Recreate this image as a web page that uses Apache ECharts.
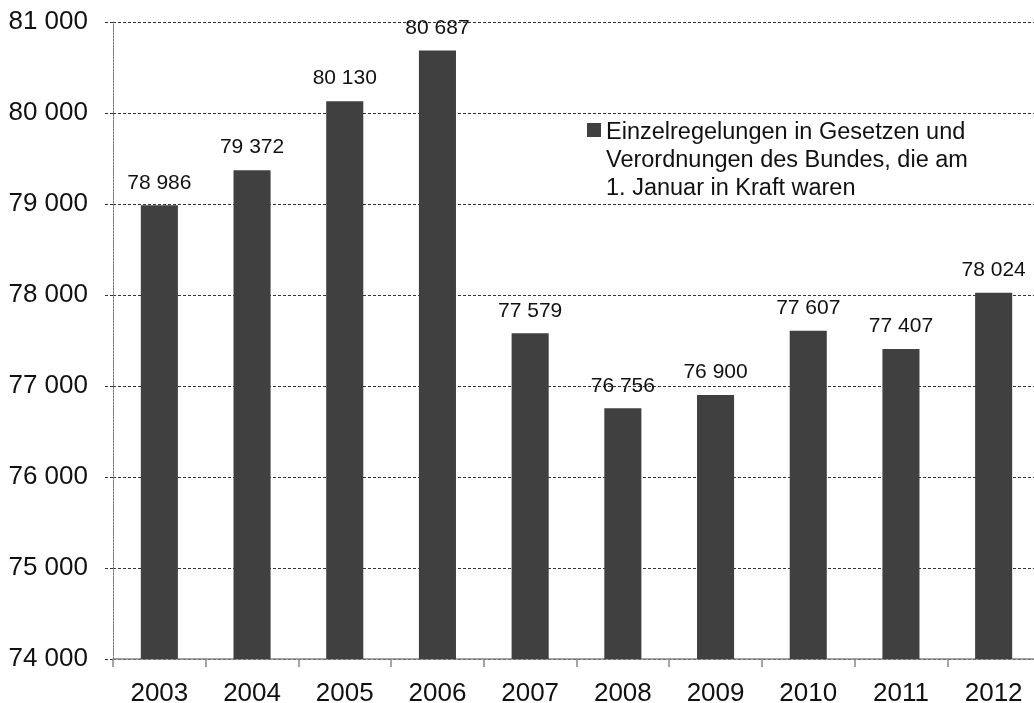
<!DOCTYPE html>
<html>
<head>
<meta charset="utf-8">
<script src="https://cdn.jsdelivr.net/npm/echarts@6/dist/echarts.min.js"></script>
<style>
  html, body { margin: 0; padding: 0; background: #fff; }
  #chart { width: 1034px; height: 703px; }
</style>
</head>
<body>
<div id="chart"></div>
<script>
// Jahre und Anzahl der Einzelregelungen
const years = ['2003', '2004', '2005', '2006', '2007', '2008', '2009', '2010', '2011', '2012']
const regelungen = [78986, 79372, 80130, 80687, 77579, 76756, 76900, 77607, 77407, 78024]
const seriesName = 'Einzelregelungen in Gesetzen und\nVerordnungen des Bundes, die am\n1. Januar in Kraft waren'

const fmt = v => String(v).replace(/\B(?=(\d{3})+(?!\d))/g, ' ')
const font = 'Liberation Sans, Arial, sans-serif'

const chart = echarts.init(document.getElementById('chart'))
chart.setOption({
  animation: false,
  textStyle: { fontFamily: font },
  grid: { left: 113, right: -6, top: 22, bottom: 44, outerBoundsMode: 'none' },
  legend: {
    left: 582,
    top: 114,
    itemWidth: 14,
    itemHeight: 84,
    // Quadrat oben, damit es bei der ersten Zeile steht
    icon: 'path://M0 4H14V18H0Z M0 0H0.1V0.1H0Z M0 83.9H0.1V84H0Z',
    textStyle: { fontSize: 23.5, lineHeight: 28, color: '#111', fontFamily: font },
    data: [seriesName]
  },
  xAxis: {
    type: 'category',
    data: years,
    axisLine: { lineStyle: { color: '#888', width: 1.5 } },
    axisTick: { show: true, length: 8, lineStyle: { color: '#888', width: 1.5 } },
    axisLabel: { fontSize: 26, color: '#111', margin: 22 }
  },
  yAxis: {
    type: 'value',
    min: 74000,
    max: 81000,
    interval: 1000,
    axisLine: { show: true, lineStyle: { color: '#777', type: [2, 1] } },
    axisTick: { show: true, length: 8, lineStyle: { color: '#333', type: [3, 2] } },
    splitLine: { lineStyle: { color: '#333', type: [3, 2] } },
    axisLabel: { fontSize: 26, color: '#111', margin: 25, formatter: fmt }
  },
  series: [{
    name: seriesName,
    type: 'bar',
    data: regelungen,
    barWidth: '40%',
    itemStyle: { color: '#404040' },
    label: {
      show: true,
      position: 'top',
      distance: 12,
      fontSize: 21,
      color: '#111',
      formatter: p => fmt(p.value)
    }
  }]
})
</script>
</body>
</html>
